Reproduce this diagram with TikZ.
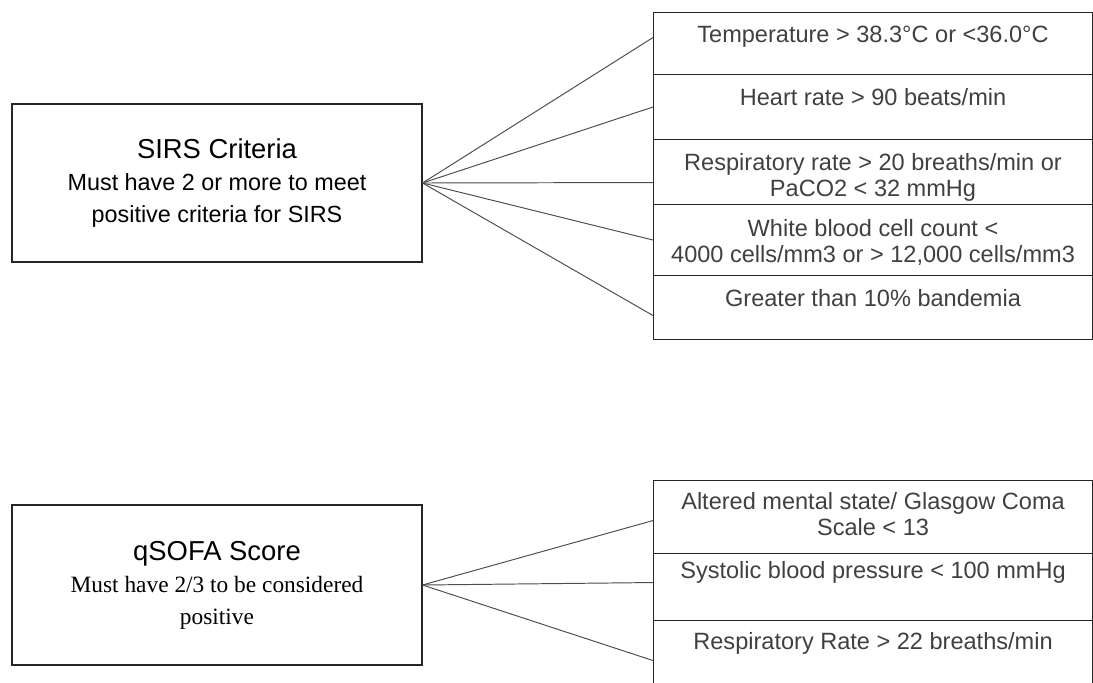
\documentclass[tikz,border=0pt]{standalone}
\usepackage{fontspec}
\setmainfont{Liberation Sans}
\newfontfamily\timesrm{Liberation Serif}
\usetikzlibrary{positioning}

\begin{document}
\begin{tikzpicture}[
        critbox/.style={draw=black!85, semithick, minimum width=8.78cm, anchor=north west, inner sep=0pt},
        crittext/.style={text=black!75, align=center, inner sep=0pt, font=\fontsize{13.4pt}{14.6pt}\selectfont},
        scorebox/.style={draw=black!85, semithick, minimum width=8.2cm, align=center, inner sep=0pt, font=\fontsize{13.3pt}{18.2pt}\selectfont},
        link/.style={draw=black!70, line width=0.55pt}
    ]
        \useasboundingbox (0,0) rectangle (21.86,13.64);
        \node[scorebox, minimum height=3.16cm] (sirs) at (4.34,9.98) {{\fontsize{15.6pt}{19.3pt}\selectfont SIRS Criteria}\\Must have 2 or more to meet\\positive criteria for SIRS};
        \node[critbox, minimum height=1.24cm] (temp) at (13.06,13.40) {};
        \node[critbox, minimum height=1.30cm] (heart) at (13.06,12.16) {};
        \node[critbox, minimum height=1.30cm] (resp) at (13.06,10.86) {};
        \node[critbox, minimum height=1.42cm] (wbc) at (13.06,9.56) {};
        \node[critbox, minimum height=1.28cm] (band) at (13.06,8.14) {};
        \node[crittext, below=0.28cm of temp.north] (temptxt) {Temperature > 38.3°C or <36.0°C};
        \node[crittext, below=0.28cm of heart.north] (hearttxt) {Heart rate > 90 beats/min};
        \node[crittext, below=0.29cm of resp.north] (resptxt) {Respiratory rate > 20 breaths/min or\\PaCO2 < 32 mmHg};
        \node[crittext, below=0.30cm of wbc.north] (wbctxt) {White blood cell count <\\4000 cells/mm3 or > 12,000 cells/mm3};
        \node[crittext, below=0.28cm of band.north] (bandtxt) {Greater than 10\% bandemia};
        \draw[link] (sirs.east) -- ([yshift=0.12cm]temp.west);
        \draw[link] (sirs.east) -- (heart.west);
        \draw[link] (sirs.east) -- ([yshift=-0.21cm]resp.west);
        \draw[link] (sirs.east) -- (wbc.west);
        \draw[link] (sirs.east) -- ([yshift=-0.16cm]band.west);
        \node[scorebox, minimum height=3.20cm] (qsofa) at (4.34,1.94) {{\fontsize{15.6pt}{19.3pt}\selectfont qSOFA Score}\\{\timesrm Must have 2/3 to be considered}\\{\timesrm positive}};
        \node[critbox, minimum height=1.46cm] (mental) at (13.06,4.04) {};
        \node[critbox, minimum height=1.34cm] (sbp) at (13.06,2.58) {};
        \node[critbox, minimum height=1.60cm] (rrate) at (13.06,1.24) {};
        \node[crittext, below=0.25cm of mental.north] (mentaltxt) {Altered mental state/ Glasgow Coma\\Scale < 13};
        \node[crittext, below=0.17cm of sbp.north] (sbptxt) {Systolic blood pressure < 100 mmHg};
        \node[crittext, below=0.25cm of rrate.north] (rratetxt) {Respiratory Rate > 22 breaths/min};
        \draw[link] (qsofa.east) -- ([yshift=-0.07cm]mental.west);
        \draw[link] (qsofa.east) -- ([yshift=0.09cm]sbp.west);
        \draw[link] (qsofa.east) -- (rrate.west);
    \end{tikzpicture}
\end{document}
